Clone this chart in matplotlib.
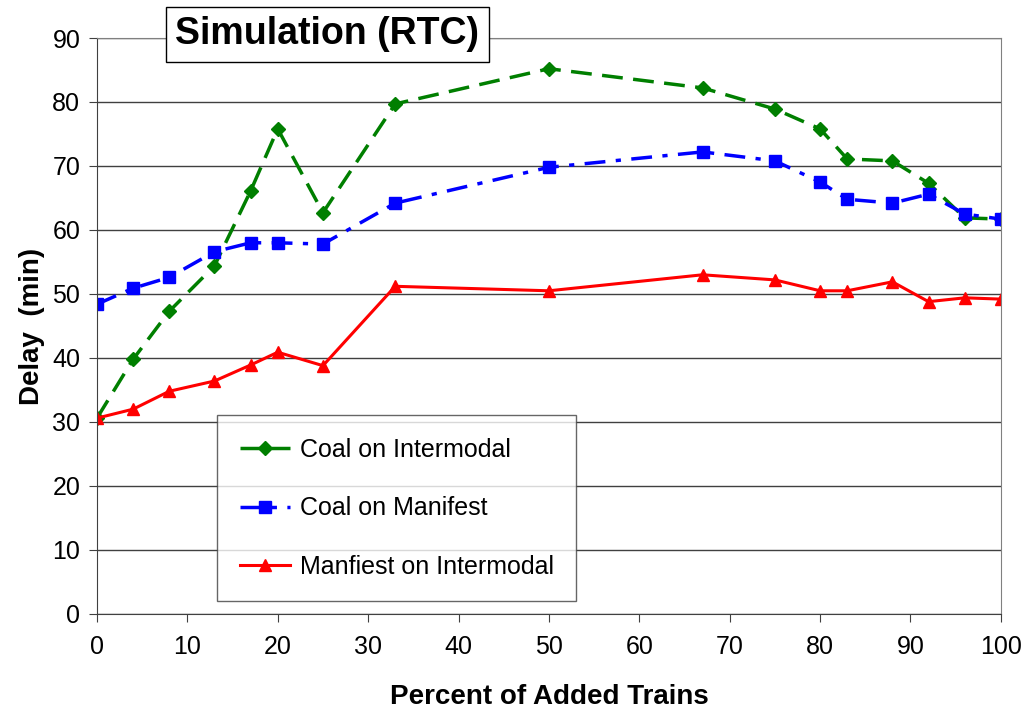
import matplotlib.pyplot as plt

plt.rcParams['font.family'] = ['Liberation Sans', 'DejaVu Sans']

# Данные
percent = [0, 4, 8, 13, 17, 20, 25, 33, 50, 67, 75, 80, 83, 88, 92, 96, 100]
coal_intermodal = [30.6, 39.8, 47.3, 54.4, 66.1, 75.8, 62.7, 79.7, 85.2, 82.2,
                   78.9, 75.8, 71.1, 70.8, 67.3, 61.9, 61.7]
coal_manifest = [48.4, 50.9, 52.6, 56.6, 58.0, 58.0, 57.8, 64.2, 69.8, 72.2,
                 70.8, 67.5, 64.8, 64.2, 65.6, 62.5, 61.7]
manifest_intermodal = [30.6, 32.0, 34.8, 36.4, 38.9, 40.9, 38.8, 51.2, 50.5, 53.0,
                       52.2, 50.5, 50.5, 51.9, 48.8, 49.4, 49.2]
labels = ['Coal on Intermodal', 'Coal on Manifest', 'Manfiest on Intermodal']

fig = plt.figure(figsize=(10.26, 7.13), dpi=100)
ax = fig.add_axes([0.0945, 0.1389, 0.881, 0.8078])

ax.plot(percent, coal_intermodal, color='#007f00', linestyle=(0, (6, 3)), linewidth=2.5,
        marker='D', markersize=7, label=labels[0])
ax.plot(percent, coal_manifest, color='#0000ff', linestyle=(0, (6, 3, 1.5, 3)), linewidth=2.5,
        marker='s', markersize=9, label=labels[1])
ax.plot(percent, manifest_intermodal, color='#ff0000', linestyle='-', linewidth=2.2,
        marker='^', markersize=9, label=labels[2])

ax.set_xlim(0, 100)
ax.set_ylim(0, 90)
ax.set_xticks(range(0, 101, 10))
ax.set_yticks(range(0, 91, 10))
ax.tick_params(labelsize=18, direction='out', length=6, color='#404040')
ax.tick_params(axis='x', pad=9)
ax.tick_params(axis='y', pad=6)
ax.yaxis.grid(True, color='#404040', linewidth=1)
ax.set_axisbelow(True)
for s in ax.spines.values():
    s.set_color('#808080')
ax.spines['left'].set_color('#404040')
ax.spines['bottom'].set_color('#404040')

ax.set_xlabel('Percent of Added Trains', fontsize=20, fontweight='bold', labelpad=18)
ax.set_ylabel('Delay  (min)', fontsize=20, fontweight='bold', labelpad=5)

leg = ax.legend(loc='upper left', bbox_to_anchor=(0.133, 0.345),
                fontsize=18, frameon=True, fancybox=False,
                handlelength=2.0, handletextpad=0.4, labelspacing=1.38,
                borderpad=0.9, borderaxespad=0, edgecolor='#404040')
leg.get_frame().set_linewidth(1)

fig.text(0.319, 0.952, 'Simulation (RTC)', fontsize=27, fontweight='bold',
         ha='center', va='center',
         bbox=dict(boxstyle='square,pad=0.25', facecolor='white', edgecolor='black', linewidth=1))

plt.savefig('out.png', dpi=100)
